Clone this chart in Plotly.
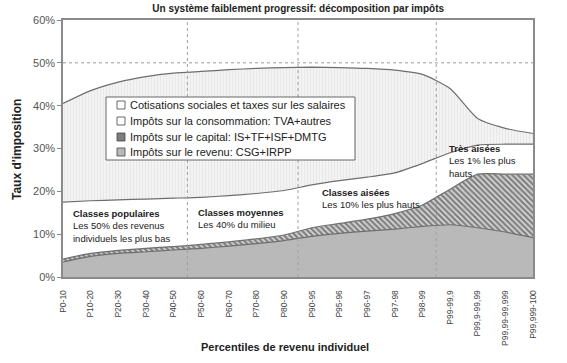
import plotly.graph_objects as go

categories = ["P0-10", "P10-20", "P20-30", "P30-40", "P40-50", "P50-60", "P60-70",
              "P70-80", "P80-90", "P90-95", "P95-96", "P96-97", "P97-98", "P98-99",
              "P99-99,9", "P99,9-99,99", "P99,99-99,999", "P99,999-100"]

revenu = [3.5, 4.8, 5.5, 5.9, 6.3, 6.7, 7.2, 7.8, 8.5, 9.5, 10.2, 10.7, 11.2, 11.8, 12.2, 11.5, 10.5, 9.2]
capital = [0.7, 0.7, 0.7, 0.8, 0.8, 0.9, 1.0, 1.1, 1.3, 2.0, 2.3, 2.8, 3.6, 5.0, 8.3, 12.5, 13.5, 14.8]
consommation = [13.3, 12.3, 11.8, 11.5, 11.3, 11.0, 10.8, 10.6, 10.4, 10.0, 10.0, 9.8, 9.5, 9.7, 8.5, 6.8, 7.0, 7.0]
cotisations = [23.0, 25.7, 27.5, 28.6, 29.2, 29.4, 29.4, 29.2, 28.7, 27.5, 26.4, 25.4, 24.0, 20.8, 15.0, 6.2, 3.7, 2.5]

series_names = ["Impôts sur le revenu: CSG+IRPP",
                "Impôts sur le capital: IS+TF+ISF+DMTG",
                "Impôts sur la consommation: TVA+autres",
                "Cotisations sociales et taxes sur les salaires"]

y_ticks = [0, 0.1, 0.2, 0.3, 0.4, 0.5, 0.6]
y_ticklabels = ["0%", "10%", "20%", "30%", "40%", "50%", "60%"]

W, H = 567, 363
ML, MR, MT, MB = 63, 34, 20, 86
PW, PH = W - ML - MR, H - MT - MB


def px(v):
    return (v - ML) / PW


def py(v):
    return (H - MB - v) / PH


x = list(range(len(categories)))
fig = go.Figure()

line = dict(color="#6e6e6e", width=1.2, shape="spline", smoothing=0.6)

fig.add_trace(go.Scatter(x=x, y=[v / 100 for v in revenu], name=series_names[0],
                         stackgroup="s", mode="lines", line=line,
                         fillcolor="#b9b9b9"))
fig.add_trace(go.Scatter(x=x, y=[v / 100 for v in capital], name=series_names[1],
                         stackgroup="s", mode="lines", line=line,
                         fillpattern=dict(shape="\\", fgcolor="#262626", bgcolor="#d8d8d8",
                                          size=4, solidity=0.55)))
fig.add_trace(go.Scatter(x=x, y=[v / 100 for v in consommation], name=series_names[2],
                         stackgroup="s", mode="lines", line=line,
                         fillcolor="#ffffff"))
fig.add_trace(go.Scatter(x=x, y=[v / 100 for v in cotisations], name=series_names[3],
                         stackgroup="s", mode="lines", line=line,
                         fillpattern=dict(shape="|", fgcolor="#dcdcdc", bgcolor="#f4f4f4",
                                          size=3, solidity=0.4)))

# class separators
for xv in [4.5, 8.5, 13.5]:
    fig.add_shape(type="line", xref="x", yref="paper", x0=xv, x1=xv, y0=0, y1=1,
                  line=dict(color="#a0a0a0", width=1, dash="dot"), layer="above")
# 50% dotted gridline
fig.add_shape(type="line", xref="paper", yref="y", x0=0, x1=1, y0=0.5, y1=0.5,
              line=dict(color="#999999", width=1, dash="dot"), layer="below")

# legend box (drawn manually for compact spacing)
fig.add_shape(type="rect", xref="paper", yref="paper", x0=px(106), x1=px(355),
              y0=py(160), y1=py(97), line=dict(color="#666666", width=1),
              fillcolor="white", layer="above")
legend_rows = [105, 121, 137, 152]
legend_fill = ["white", "white", "#7d7d7d", "#b9b9b9"]
for yc, name, fc in zip(legend_rows, series_names[::-1], legend_fill):
    fig.add_shape(type="rect", xref="paper", yref="paper", x0=px(117), x1=px(125),
                  y0=py(yc + 4), y1=py(yc - 4), line=dict(color="#444444", width=0.8),
                  fillcolor=fc, layer="above")
    fig.add_annotation(x=px(128), y=py(yc), xref="paper", yref="paper", text=name,
                       showarrow=False, xanchor="left", yanchor="middle",
                       font=dict(family="Arial", size=11, color="#222222"))

ann_font = dict(family="Arial", size=9.5, color="#222222")
notes = [
    (0.3, 0.165, "<b>Classes populaires</b><br>Les 50% des revenus<br>individuels les plus bas"),
    (4.8, 0.168, "<b>Classes moyennes</b><br>Les 40% du milieu"),
    (9.3, 0.215, "<b>Classes aisées</b><br>Les 10% les plus hauts"),
    (13.9, 0.317, "<b>Très aisées</b><br>Les 1% les plus<br>hauts"),
]
for xa, ya, txt in notes:
    fig.add_annotation(x=xa, y=ya, xref="x", yref="y", text=txt, showarrow=False,
                       xanchor="left", yanchor="top", align="left", font=ann_font)

# axis titles
fig.add_annotation(x=px(285), y=py(347), xref="paper", yref="paper",
                   text="<b>Percentiles de revenu individuel</b>", showarrow=False,
                   xanchor="center", yanchor="middle",
                   font=dict(family="Arial", size=11, color="#222222"))
fig.add_annotation(x=px(17), y=py(150), xref="paper", yref="paper",
                   text="<b>Taux d'imposition</b>", showarrow=False, textangle=-90,
                   xanchor="center", yanchor="middle",
                   font=dict(family="Arial", size=12, color="#222222"))

fig.update_layout(
    width=W, height=H,
    margin=dict(l=ML, r=MR, t=MT, b=MB),
    paper_bgcolor="white", plot_bgcolor="white",
    title=dict(text="<b>Un système faiblement progressif: décomposition par impôts</b>",
               x=0.526, xanchor="center", y=0.985, yanchor="top",
               font=dict(family="Arial", size=10, color="#222222")),
    font=dict(family="Arial", color="#333333"),
    showlegend=False,
    xaxis=dict(range=[0, 17], tickmode="array", tickvals=x, ticktext=categories,
               tickangle=-90, tickfont=dict(family="Arial", size=8.5, color="#444444"),
               showgrid=False, zeroline=False, showline=True, linecolor="#8a8a8a",
               linewidth=1.5, mirror=True, ticks="", ticklabelstandoff=8,
               automargin=False),
    yaxis=dict(range=[0, 0.6], tickmode="array", tickvals=y_ticks, ticktext=y_ticklabels,
               tickfont=dict(family="Arial", size=11, color="#555555"),
               showgrid=False, zeroline=False, showline=True, linecolor="#8a8a8a",
               linewidth=1.5, mirror=True, ticks="outside", ticklen=4, tickcolor="#8a8a8a",
               automargin=False),
)

fig.write_html("out.html")
